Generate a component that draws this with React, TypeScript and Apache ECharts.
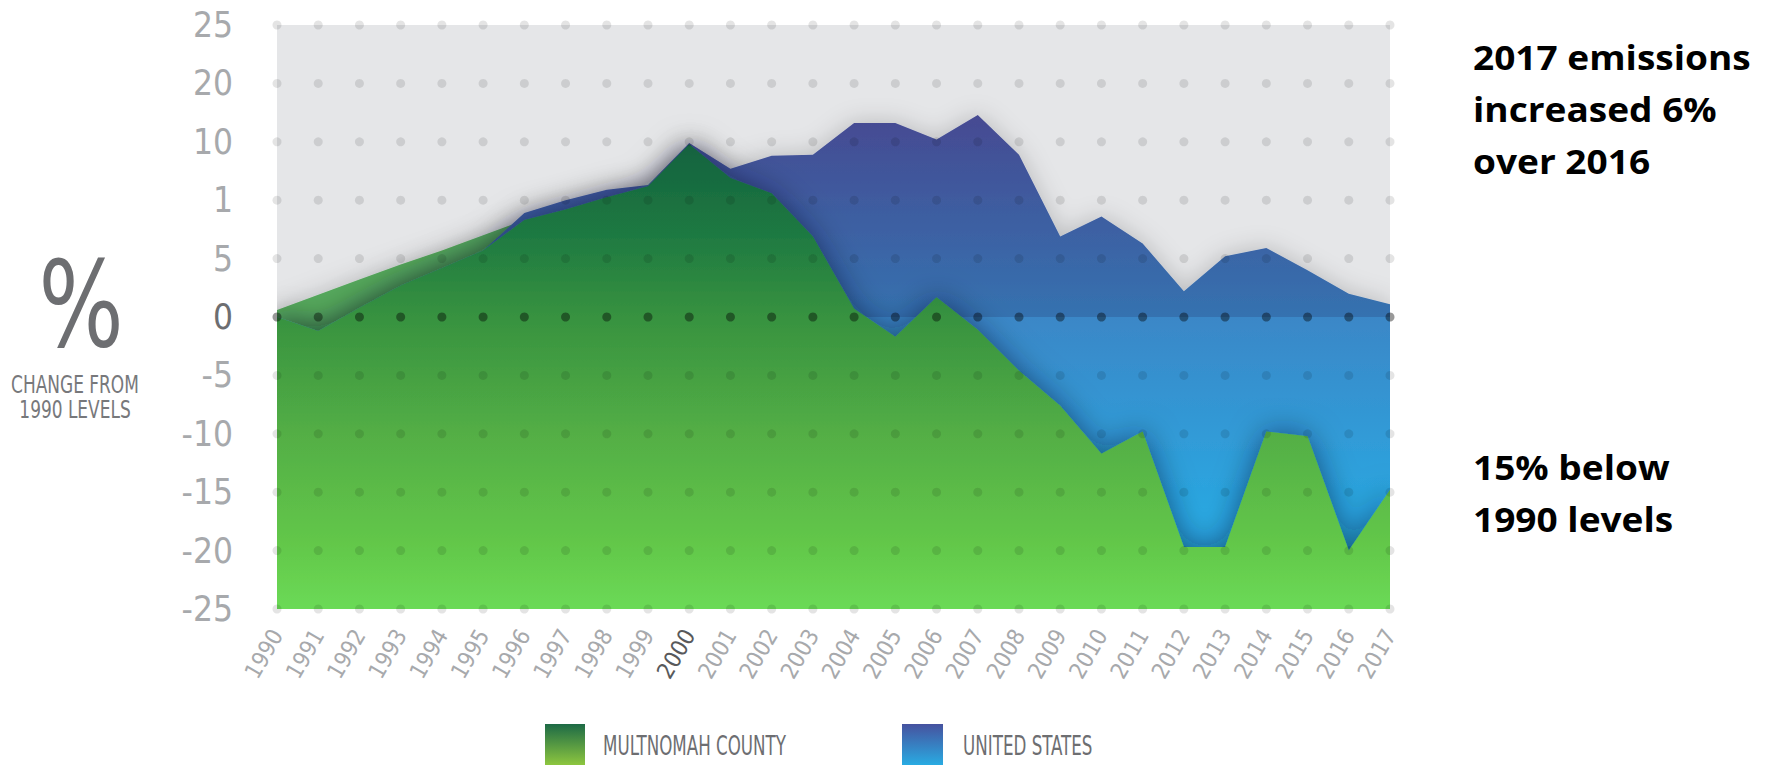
import React, { useEffect, useRef } from 'react';
import * as echarts from 'echarts';

const years = ['1990','1991','1992','1993','1994','1995','1996','1997','1998','1999','2000','2001','2002','2003','2004','2005','2006','2007','2008','2009','2010','2011','2012','2013','2014','2015','2016','2017'];
const multnomah = [0.6, 1.9, 3.2, 4.5, 5.7, 7.0, 8.3, 9.2, 10.25, 11.2, 14.8, 11.9, 10.6, 6.9, 0.7, -1.7, 1.7, -1.1, -4.6, -7.6, -11.7, -9.8, -19.7, -19.7, -9.8, -10.2, -20.0, -14.8];
const unitedStates = [0, -1.2, 0.8, 2.7, 4.2, 5.7, 8.9, 10.0, 10.9, 11.3, 14.9, 12.7, 13.8, 13.9, 16.6, 16.6, 15.2, 17.3, 13.9, 6.9, 8.6, 6.3, 2.2, 5.2, 5.9, 4.0, 2.0, 1.1];
const yTickValues = [25, 20, 15, 10, 5, 0, -5, -10, -15, -20, -25];
const yTickLabels = ['25', '20', '10', '1', '5', '0', '-5', '-10', '-15', '-20', '-25'];
const highlightYear = '2000';
const legendNames = ['MULTNOMAH COUNTY', 'UNITED STATES'];
const noteTop = ['2017 emissions', 'increased 6%', 'over 2016'];
const noteBottom = ['15% below', '1990 levels'];
const titleLines = ['CHANGE FROM', '1990 LEVELS'];

const NARROW = "'Liberation Sans Narrow', 'DejaVu Sans Condensed', 'Roboto', sans-serif";
const BOLD = "'Open Sans', Lato, sans-serif";

export default function App() {
  const ref = useRef<HTMLDivElement>(null);
  useEffect(() => {
    document.body.style.margin = '0';
    const chart = echarts.init(ref.current!, undefined, { renderer: 'svg' });
    const yMin = yTickValues[yTickValues.length - 1];
    const yMax = yTickValues[0];
    const usMax = Math.max(...unitedStates);
    const zeroOff = usMax / (usMax - yMin);
    const lowerGreen = multnomah.map((v, i) => Math.min(v, unitedStates[i]));
    const dots: any[] = [];
    years.forEach((y) => yTickValues.forEach((v) => dots.push([y, v])));

    const noteText = (t: string, y: number) => ({
      type: 'text', x: 1473, y, scaleX: 1.09,
      style: { text: t, font: `bold 34px ${BOLD}`, fill: '#000', align: 'left', verticalAlign: 'middle' },
    });

    const option: any = {
      animation: false,
      grid: {
        left: 277, right: 385, top: 25, bottom: 156,
        show: true, backgroundColor: '#e5e6e8', borderWidth: 0,
      },
      xAxis: {
        type: 'category', data: years, boundaryGap: false,
        axisLine: { show: false }, axisTick: { show: false }, splitLine: { show: false },
        axisLabel: {
          rotate: 60, margin: 22, interval: 0,
          fontFamily: NARROW, fontSize: 23,
          color: (v: any) => (String(v) === highlightYear ? '#58595b' : '#a7a9ac'),
        },
      },
      yAxis: {
        type: 'value', min: yMin, max: yMax, interval: 5,
        axisLine: { show: false }, axisTick: { show: false }, splitLine: { show: false },
        axisLabel: {
          margin: 44, fontFamily: NARROW, fontSize: 35,
          formatter: (v: number) => yTickLabels[yTickValues.indexOf(v)],
          color: (v: any) => (Number(v) === 0 ? '#6d6e71' : '#a7a9ac'),
        },
      },
      series: [
        {
          name: 'Multnomah upper', type: 'line', z: 1, data: multnomah, symbol: 'none',
          lineStyle: { width: 0 },
          areaStyle: { origin: 'start', color: '#55a85c', opacity: 1, shadowBlur: 25, shadowColor: 'rgba(0,0,0,0.18)' },
          silent: true,
        },
        {
          name: 'United States', type: 'line', z: 2, data: unitedStates, symbol: 'none',
          lineStyle: { width: 0 },
          areaStyle: {
            origin: 'start', opacity: 1, shadowBlur: 25, shadowColor: 'rgba(0,0,0,0.2)',
            color: new echarts.graphic.LinearGradient(0, 0, 0, 1, [
              { offset: 0, color: '#464a92' },
              { offset: zeroOff - 0.001, color: '#3572b0' },
              { offset: zeroOff, color: '#3b87c7' },
              { offset: 0.8, color: '#2aa7e1' },
              { offset: 1, color: '#2aa8e2' },
            ]),
          },
          silent: true,
        },
        {
          name: 'Multnomah County', type: 'line', z: 3, data: lowerGreen, symbol: 'none',
          lineStyle: { width: 0 },
          areaStyle: {
            origin: 'start', opacity: 1, shadowBlur: 30, shadowColor: 'rgba(0,10,40,0.5)',
            color: new echarts.graphic.LinearGradient(0, 0, 0, 1, [
              { offset: 0, color: '#13623f' },
              { offset: 0.2, color: '#1f7a42' },
              { offset: 0.37, color: '#379240' },
              { offset: 0.62, color: '#53ae45' },
              { offset: 0.85, color: '#62c649' },
              { offset: 1, color: '#6bda56' },
            ]),
          },
          silent: true,
        },
        {
          name: 'dots', type: 'scatter', z: 5, data: dots, symbolSize: 9, silent: true,
          itemStyle: {
            color: (p: any) => (p.value[1] === 0 ? 'rgba(0,0,0,0.5)' : 'rgba(0,0,0,0.13)'),
          },
        },
      ],
      graphic: [
        { type: 'text', x: 81, y: 305, scaleX: 0.83, style: { text: '%', font: `normal 120px ${NARROW}`, fill: '#6d6e71', align: 'center', verticalAlign: 'middle' } },
        { type: 'text', x: 75, y: 384, scaleX: 0.755, style: { text: titleLines[0], font: `normal 25px ${NARROW}`, fill: '#77787b', align: 'center', verticalAlign: 'middle' } },
        { type: 'text', x: 75, y: 409, scaleX: 0.755, style: { text: titleLines[1], font: `normal 25px ${NARROW}`, fill: '#77787b', align: 'center', verticalAlign: 'middle' } },
        ...noteTop.map((t, i) => noteText(t, 57 + i * 52)),
        ...noteBottom.map((t, i) => noteText(t, 467 + i * 52)),
        {
          type: 'rect', shape: { x: 545, y: 724, width: 40, height: 41 },
          style: { fill: new echarts.graphic.LinearGradient(0, 0, 0, 1, [{ offset: 0, color: '#1d6a46' }, { offset: 1, color: '#8dc63f' }]) },
        },
        { type: 'text', x: 603, y: 746, scaleX: 0.715, style: { text: legendNames[0], font: `normal 26px ${NARROW}`, fill: '#6d6e71', align: 'left', verticalAlign: 'middle' } },
        {
          type: 'rect', shape: { x: 902, y: 724, width: 41, height: 41 },
          style: { fill: new echarts.graphic.LinearGradient(0, 0, 0, 1, [{ offset: 0, color: '#46529f' }, { offset: 1, color: '#29abe2' }]) },
        },
        { type: 'text', x: 963, y: 746, scaleX: 0.715, style: { text: legendNames[1], font: `normal 26px ${NARROW}`, fill: '#6d6e71', align: 'left', verticalAlign: 'middle' } },
      ],
    };
    chart.setOption(option);
    return () => chart.dispose();
  }, []);
  return <div ref={ref} style={{ position: 'absolute', left: 0, top: 0, width: 1775, height: 765 }} />;
}
